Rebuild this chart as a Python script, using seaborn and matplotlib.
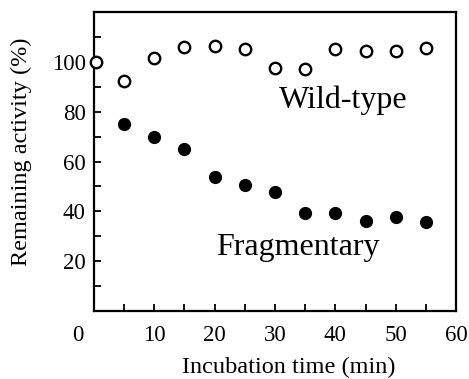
import matplotlib
matplotlib.use("Agg")
import matplotlib.pyplot as plt
import matplotlib.transforms as mtransforms
import seaborn as sns
import pandas as pd

# Data
wt_time = [0.3, 5, 10, 15, 20, 25, 30, 35, 40, 45, 50, 55]
wt_activity = [100.0, 92.4, 101.7, 105.9, 106.4, 105.3, 97.7, 97.2, 105.3, 104.3, 104.3, 105.5]
frag_time = [5, 10, 15, 20, 25, 30, 35, 40, 45, 50, 55]
frag_activity = [75.2, 69.9, 64.9, 53.7, 50.4, 47.9, 39.5, 39.5, 36.1, 37.7, 35.7]
x_ticks = [0, 10, 20, 30, 40, 50, 60]
y_ticks = [20, 40, 60, 80, 100]

sns.set_theme(style="ticks")
plt.rcParams['font.family'] = ['Liberation Serif', 'DejaVu Serif']
plt.rcParams['text.color'] = 'black'
plt.rcParams['axes.labelcolor'] = 'black'
plt.rcParams['xtick.color'] = 'black'
plt.rcParams['ytick.color'] = 'black'

wt = pd.DataFrame({"time": wt_time, "activity": wt_activity})
fr = pd.DataFrame({"time": frag_time, "activity": frag_activity})

fig = plt.figure(figsize=(4.69, 3.79), dpi=100)
ax = fig.add_axes([0.2004, 0.1794, 0.7719, 0.7889])

sns.scatterplot(data=wt, x="time", y="activity", ax=ax, marker="o",
                facecolor="white", edgecolor="black", linewidth=1.7, s=68, zorder=5, clip_on=False)
sns.scatterplot(data=fr, x="time", y="activity", ax=ax, marker="o",
                color="black", edgecolor="black", linewidth=1.0, s=72, zorder=5, clip_on=False)

ax.set_xlim(0, 60)
ax.set_ylim(0, 120)
ax.set_xticks(x_ticks)
ax.set_xticks(list(range(5, 60, 10)), minor=True)
ax.set_yticks(y_ticks)
ax.set_yticks([10, 30, 50, 70, 90, 110], minor=True)
ax.set_xticklabels([str(v) for v in x_ticks])
ax.set_yticklabels([str(v) for v in y_ticks])

ax.tick_params(axis="both", which="both", direction="in", length=5, width=1.3,
               color="black", labelcolor="black")
ax.tick_params(axis="x", which="major", pad=10, labelsize=16.5)
ax.tick_params(axis="y", which="major", pad=6, labelsize=16.5)

for sp in ax.spines.values():
    sp.set_linewidth(1.6)
    sp.set_color("black")
    sp.set_visible(True)

ax.set_xlabel("Incubation time (min)", fontsize=17.5, color="black")
ax.set_ylabel("Remaining activity (%)", fontsize=17.5, color="black")
ax.xaxis.set_label_coords(0.539, -0.155)
ax.yaxis.set_label_coords(-0.172, 0.533)

ax.text(41.3, 84.5, "Wild-type", fontsize=23, ha="center", va="center", color="black")
ax.text(33.8, 25.5, "Fragmentary", fontsize=23, ha="center", va="center", color="black")

# shift the "0" label slightly to the left as in the reference
lbl0 = ax.get_xticklabels()[0]
lbl0.set_transform(lbl0.get_transform() + mtransforms.ScaledTranslation(-0.16, 0, fig.dpi_scale_trans))

fig.savefig("out.png", dpi=100)
